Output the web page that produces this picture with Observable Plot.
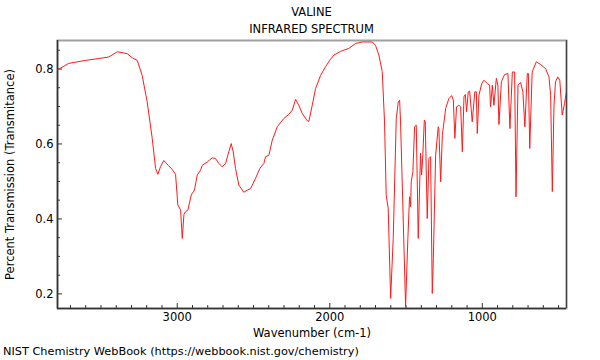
<!DOCTYPE html>
<html><head><meta charset="utf-8">
<script src="https://cdn.jsdelivr.net/npm/d3@7"></script>
<script src="https://cdn.jsdelivr.net/npm/@observablehq/plot@0.6"></script>
<style>
html,body{margin:0;padding:0;background:#fff;}
body{width:600px;height:360px;position:relative;overflow:hidden;font-family:"DejaVu Sans",sans-serif;color:#000;}
#hdr{position:absolute;left:0;top:4px;width:623px;text-align:center;font-size:11.5px;line-height:17px;}
#chart{position:absolute;left:0;top:36px;}
#ftr{position:absolute;left:3px;top:343px;font-size:11.3px;line-height:18px;white-space:nowrap;}
</style></head>
<body>
<div id="hdr"><div id="t1"></div><div id="t2"></div></div>
<div id="chart"></div>
<div id="ftr"></div>
<script>
const title = "VALINE";
const subtitle = "INFRARED SPECTRUM";
const caption = "NIST Chemistry WebBook (https://webbook.nist.gov/chemistry)";
const xLabel = "Wavenumber (cm-1)";
const yLabel = "Percent Transmission (Transmitance)";

const xDomain = [3785, 448];
const yDomain = [0.161, 0.876];
const xMajorTicks = [3000, 2000, 1000];
const xMinorTicks = [3700,3600,3500,3400,3300,3200,3100,2900,2800,2700,2600,2500,2400,2300,2200,2100,1900,1800,1700,1600,1500,1400,1300,1200,1100,900,800,700,600,500];
const yMajorTicks = [0.2, 0.4, 0.6, 0.8];
const yMinorTicks = [0.25,0.3,0.35,0.45,0.5,0.55,0.65,0.7,0.75,0.85];

const wavenumber = [3787,3711,3601,3514,3449,3393,3328,3295,3262,3230,3197,3164,3142,3127,3110,3088,3059,3033,3011,2996,2978,2967,2956,2946,2930,2908,2887,2869,2847,2836,2803,2770,2749,2727,2705,2683,2662,2646,2633,2618,2596,2563,2541,2519,2487,2458,2432,2421,2399,2377,2344,2301,2268,2246,2224,2203,2180,2148,2137,2115,2093,2060,2028,1995,1973,1929,1875,1831,1787,1754,1721,1700,1678,1656,1641,1630,1617,1601,1584,1564,1551,1542,1536,1521,1503,1488,1477,1470,1466,1455,1444,1433,1420,1405,1398,1390,1380,1374,1361,1350,1339,1328,1321,1306,1289,1285,1273,1262,1240,1219,1201,1190,1180,1169,1153,1142,1131,1120,1111,1103,1092,1083,1066,1049,1039,1033,1022,1004,989,967,952,946,934,924,908,898,891,875,854,832,819,803,788,779,766,749,734,721,705,698,689,673,646,618,585,563,552,541,530,520,505,492,476,461,447];
const transmittance = [0.797,0.815,0.823,0.828,0.832,0.846,0.841,0.830,0.823,0.783,0.712,0.615,0.535,0.519,0.539,0.556,0.543,0.532,0.519,0.437,0.424,0.348,0.412,0.419,0.424,0.464,0.477,0.517,0.530,0.543,0.552,0.563,0.561,0.548,0.539,0.548,0.579,0.601,0.579,0.535,0.490,0.471,0.477,0.481,0.508,0.535,0.548,0.566,0.570,0.610,0.646,0.668,0.679,0.690,0.719,0.703,0.681,0.662,0.660,0.703,0.748,0.783,0.806,0.826,0.837,0.847,0.855,0.868,0.872,0.872,0.872,0.863,0.837,0.793,0.659,0.463,0.428,0.188,0.348,0.668,0.712,0.717,0.659,0.437,0.166,0.348,0.459,0.433,0.499,0.526,0.646,0.650,0.348,0.575,0.517,0.570,0.664,0.659,0.401,0.561,0.566,0.201,0.295,0.570,0.646,0.641,0.499,0.623,0.695,0.721,0.729,0.717,0.615,0.699,0.703,0.699,0.579,0.726,0.732,0.686,0.739,0.741,0.659,0.739,0.739,0.628,0.730,0.761,0.770,0.761,0.757,0.699,0.757,0.703,0.775,0.757,0.652,0.766,0.785,0.788,0.641,0.792,0.792,0.459,0.757,0.764,0.739,0.646,0.788,0.788,0.588,0.792,0.819,0.812,0.801,0.779,0.730,0.473,0.703,0.766,0.779,0.770,0.677,0.708,0.743];

const spectrum = wavenumber.map((w, i) => ({w, t: transmittance[i]}));

document.getElementById("t1").textContent = title;
document.getElementById("t2").textContent = subtitle;
document.getElementById("ftr").textContent = caption;

const fs = 11.5;
const chart = Plot.plot({
  width: 600,
  height: 306,
  marginTop: 4,
  marginBottom: 34,
  marginLeft: 57,
  marginRight: 34,
  style: {fontFamily: "DejaVu Sans, sans-serif", fontSize: fs + "px", color: "#000", background: "#fff"},
  x: {domain: xDomain, label: null},
  y: {domain: yDomain, label: null},
  marks: [
    Plot.frame({stroke: "#a0a0a0", strokeWidth: 2}),
    Plot.ruleX([xDomain[1]], {stroke: "#444", strokeWidth: 1.2}),
    Plot.ruleX([xDomain[0]], {stroke: "#333", strokeWidth: 1.5}),
    Plot.ruleY([yDomain[0]], {stroke: "#333", strokeWidth: 1.5}),
    Plot.axisX({ticks: xMinorTicks, tickSize: -3, tickFormat: () => "", label: null, stroke: "#333"}),
    Plot.axisX({ticks: xMajorTicks, tickSize: -5, tickPadding: 9, tickFormat: d => String(d), label: null, fontSize: fs, stroke: "#333"}),
    Plot.axisY({ticks: yMinorTicks, tickSize: -3, tickFormat: () => "", label: null, stroke: "#333"}),
    Plot.axisY({ticks: yMajorTicks, tickSize: -5, tickPadding: 9, tickFormat: d3.format(".1f"), label: null, fontSize: fs, stroke: "#333"}),
    Plot.line(spectrum, {x: "w", y: "t", stroke: "#ff1a1a", strokeWidth: 1, clip: true}),
    Plot.text([xLabel], {frameAnchor: "bottom", dy: 25, lineAnchor: "middle", textAnchor: "middle", fontSize: fs, fill: "#000"}),
    Plot.text([yLabel], {frameAnchor: "left", dx: -47, rotate: -90, lineAnchor: "middle", textAnchor: "middle", fontSize: fs, fill: "#000"})
  ]
});
document.getElementById("chart").appendChild(chart);
</script>
</body></html>
